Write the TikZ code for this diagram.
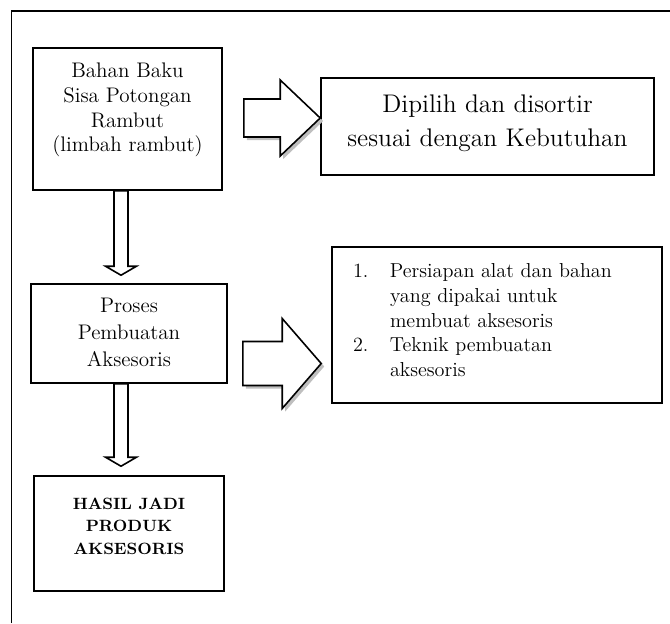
\documentclass[tikz,border=0pt]{standalone}
\usetikzlibrary{calc}
\newlength\pxu
\setlength\pxu{0.02cm}
% fixed-size box text, first line at the top
\newcommand{\boxtext}[4]{\parbox[c][#2\pxu][t]{#1\pxu}{\centering\vspace*{#3\pxu}#4}}
% block arrow to the right: tail, tip, shaft half, head half, head length
\newcommand{\rightblock}[5]{%
  \fill[arrowshade, transform canvas={shift={(3,-3)}}] ($(#1)+(0,#3)$) -- ($(#2)+(-#5,#3)$) -- ($(#2)+(-#5,#4)$) -- (#2) -- ($(#2)+(-#5,-#4)$) -- ($(#2)+(-#5,-#3)$) -- ($(#1)+(0,-#3)$) -- cycle;
  \draw[blockarrow] ($(#1)+(0,#3)$) -- ($(#2)+(-#5,#3)$) -- ($(#2)+(-#5,#4)$) -- (#2) -- ($(#2)+(-#5,-#4)$) -- ($(#2)+(-#5,-#3)$) -- ($(#1)+(0,-#3)$) -- cycle;}
% block arrow downwards: top, tip
\newcommand{\downblock}[2]{%
  \draw[blockarrow] ($(#1)+(-7,0)$) -- ($(#2)+(-7,9)$) -- ($(#2)+(-15.5,9)$) -- (#2) -- ($(#2)+(15.5,9)$) -- ($(#2)+(7,9)$) -- ($(#1)+(7,0)$) -- cycle;}

\begin{document}
\begin{tikzpicture}[x=0.02cm, y=0.02cm,
    box/.style={draw, line width=0.9pt, inner sep=0pt},
    blockarrow/.style={draw, fill=white, line width=0.9pt},
    arrowshade/.style={fill=gray!50}]
    \useasboundingbox (0,0) rectangle (670,-623);
    % outer frame
    \draw[line width=0.9pt] (11.5,-623) -- (11.5,-11) -- (670,-11);
    % boxes
    \node[box] (bahan) at (127.5,-119) {\boxtext{189}{142}{15.3}{\fontsize{12}{14}\selectfont Bahan Baku\\ Sisa Potongan\\ Rambut\\ (limbah rambut)}};
    \node[box] (dipilih) at (487.5,-126.5) {\boxtext{333}{97}{17.3}{\fontsize{14.5}{19.3}\selectfont Dipilih dan disortir\\ sesuai dengan Kebutuhan}};
    \node[box] (proses) at (129,-333.5) {\boxtext{196}{99}{14.5}{\fontsize{12}{15.3}\selectfont Proses\\ Pembuatan\\ Aksesoris}};
    \node[box] (list) at (497,-325) {\parbox[c][156\pxu][t]{330\pxu}{\vspace*{13.7\pxu}\hspace*{21\pxu}\fontsize{11.5}{14}\selectfont
      \begin{tabular}[t]{@{}p{37\pxu}@{}l@{}}
        1. & Persiapan alat dan bahan\\
           & yang dipakai untuk\\
           & membuat aksesoris\\
        2. & Teknik pembuatan\\
           & aksesoris
      \end{tabular}}};
    \node[box] (hasil) at (129,-533.5) {\boxtext{190}{115}{21.7}{\fontsize{9.3}{12.8}\selectfont\bfseries HASIL JADI\\ PRODUK\\ AKSESORIS}};
    % arrows to the right
    \coordinate (r1a) at ($(bahan.east)+(21,1)$);
    \coordinate (r1b) at (r1a -| dipilih.west);
    \rightblock{r1a}{r1b}{19}{38}{40}
    \coordinate (r2a) at ($(proses.east)+(15,-30)$);
    \coordinate (r2b) at ($(r2a -| list.west)+(-10,0)$);
    \rightblock{r2a}{r2b}{22}{45}{39}
    % arrows downwards
    \coordinate (d1a) at ($(bahan.south)+(-6.5,0)$);
    \coordinate (d1b) at ($(d1a |- proses.north)+(0,8)$);
    \downblock{d1a}{d1b}
    \coordinate (d2a) at ($(proses.south)+(-8,0)$);
    \coordinate (d2b) at ($(d2a |- hasil.north)+(0,9)$);
    \downblock{d2a}{d2b}
\end{tikzpicture}
\end{document}
